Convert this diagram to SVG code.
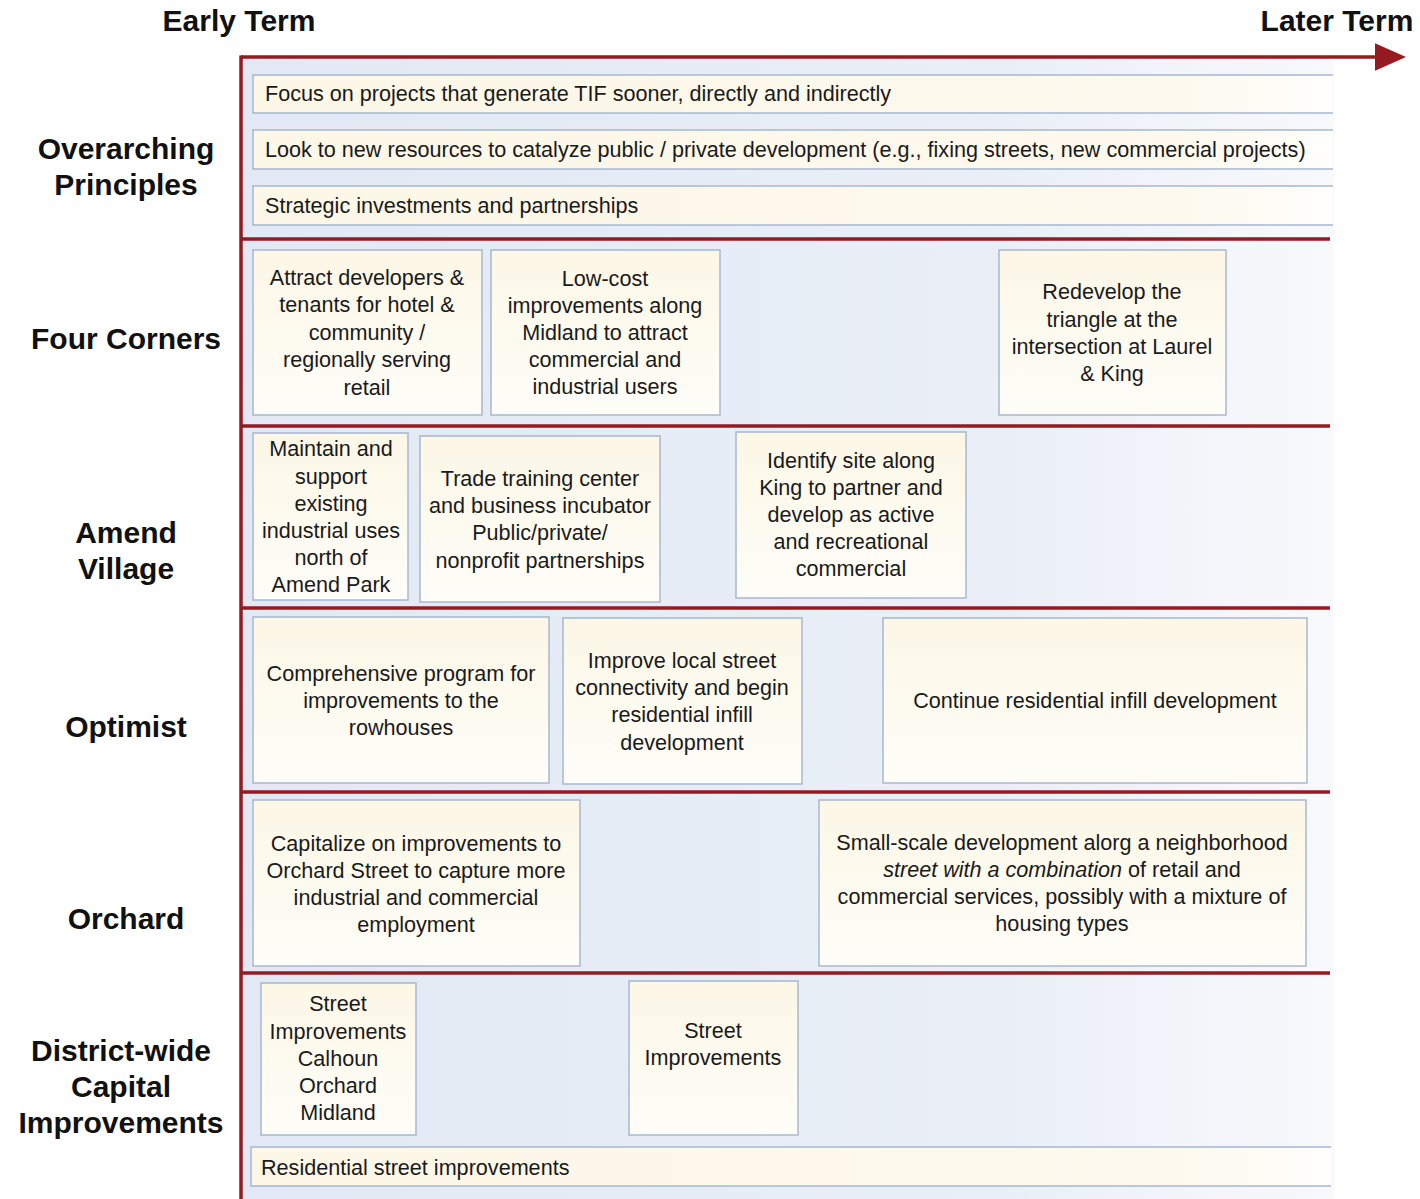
<svg xmlns="http://www.w3.org/2000/svg" width="1420" height="1199" viewBox="0 0 1420 1199">
<defs>
<linearGradient id="panel" x1="0" y1="0" x2="1" y2="0">
<stop offset="0" stop-color="#e2e9f4"/>
<stop offset="0.7" stop-color="#eaeff7"/>
<stop offset="1" stop-color="#f8f9fc"/>
</linearGradient>
<linearGradient id="cream" x1="0" y1="0" x2="0" y2="1">
<stop offset="0" stop-color="#fcf7e6"/>
<stop offset="1" stop-color="#fefdf8"/>
</linearGradient>
<linearGradient id="bar" x1="0" y1="0" x2="1" y2="0">
<stop offset="0" stop-color="#fcf7e6"/>
<stop offset="0.85" stop-color="#fdf9ee"/>
<stop offset="1" stop-color="#fefefb"/>
</linearGradient>
<marker id="ah" markerWidth="10" markerHeight="8" refX="1" refY="4" orient="auto" markerUnits="strokeWidth">
<path d="M0,0 L9,4 L0,8 Z" fill="#951a22"/>
</marker>
<style>
.hd{font-family:"Liberation Sans",Arial,sans-serif;font-weight:bold;font-size:30px;fill:#111;text-anchor:middle}
.tx{font-family:"Liberation Sans",Arial,sans-serif;font-size:21.6px;fill:#1a1a1a;text-anchor:middle}
.tl{font-family:"Liberation Sans",Arial,sans-serif;font-size:21.6px;fill:#1a1a1a}
.box{fill:url(#cream);stroke:#a7b8cf;stroke-width:1.5}
.bf{fill:url(#bar)}
.bl{stroke:#a7b8cf;stroke-width:1.5;fill:none}
.rl{stroke:#951a22;stroke-width:3.5;fill:none}
</style>
</defs>
<rect width="1420" height="1199" fill="#ffffff"/>
<rect x="242" y="58" width="1092" height="1141" fill="url(#panel)"/>

<g id="headers">
<text class="hd" x="239" y="31">Early Term</text>
<text class="hd" x="1337" y="31">Later Term</text>
</g>

<g id="row-labels">
<text class="hd" x="126" y="159">Overarching</text>
<text class="hd" x="126" y="195">Principles</text>
<text class="hd" x="126" y="349">Four Corners</text>
<text class="hd" x="126" y="543">Amend</text>
<text class="hd" x="126" y="579">Village</text>
<text class="hd" x="126" y="737">Optimist</text>
<text class="hd" x="126" y="929">Orchard</text>
<text class="hd" x="121" y="1061">District-wide</text>
<text class="hd" x="121" y="1097">Capital</text>
<text class="hd" x="121" y="1133">Improvements</text>
</g>

<g id="connectors">
<line class="rl" x1="241" y1="57" x2="1378" y2="57" marker-end="url(#ah)"/>
<line class="rl" x1="241" y1="55.5" x2="241" y2="1199"/>
<line class="rl" x1="241" y1="239" x2="1330" y2="239"/>
<line class="rl" x1="241" y1="426" x2="1330" y2="426"/>
<line class="rl" x1="241" y1="608" x2="1330" y2="608"/>
<line class="rl" x1="241" y1="792" x2="1330" y2="792"/>
<line class="rl" x1="241" y1="973" x2="1330" y2="973"/>
</g>

<g id="principle-1">
<rect class="bf" x="253" y="75" width="1080" height="38"/>
<path class="bl" d="M1333,75 H253 V113 H1333"/>
<text class="tl" x="265" y="101">Focus on projects that generate TIF sooner, directly and indirectly</text>
</g>
<g id="principle-2">
<rect class="bf" x="253" y="130" width="1080" height="39"/>
<path class="bl" d="M1333,130 H253 V169 H1333"/>
<text class="tl" x="265" y="157">Look to new resources to catalyze public / private development (e.g., fixing streets, new commercial projects)</text>
</g>
<g id="principle-3">
<rect class="bf" x="253" y="186" width="1080" height="39"/>
<path class="bl" d="M1333,186 H253 V225 H1333"/>
<text class="tl" x="265" y="213">Strategic investments and partnerships</text>
</g>

<g id="fc-attract">
<rect class="box" x="253" y="250" width="229" height="165"/>
<text class="tx" x="367" y="285">Attract developers &amp;</text>
<text class="tx" x="367" y="312">tenants for hotel &amp;</text>
<text class="tx" x="367" y="340">community /</text>
<text class="tx" x="367" y="367">regionally serving</text>
<text class="tx" x="367" y="395">retail</text>
</g>
<g id="fc-lowcost">
<rect class="box" x="491" y="250" width="229" height="165"/>
<text class="tx" x="605" y="286">Low-cost</text>
<text class="tx" x="605" y="313">improvements along</text>
<text class="tx" x="605" y="340">Midland to attract</text>
<text class="tx" x="605" y="367">commercial and</text>
<text class="tx" x="605" y="394">industrial users</text>
</g>
<g id="fc-redevelop">
<rect class="box" x="999" y="250" width="227" height="165"/>
<text class="tx" x="1112" y="299">Redevelop the</text>
<text class="tx" x="1112" y="327">triangle at the</text>
<text class="tx" x="1112" y="354">intersection at Laurel</text>
<text class="tx" x="1112" y="381">&amp; King</text>
</g>

<g id="av-maintain">
<rect class="box" x="253" y="433" width="155" height="167"/>
<text class="tx" x="331" y="456">Maintain and</text>
<text class="tx" x="331" y="484">support</text>
<text class="tx" x="331" y="511">existing</text>
<text class="tx" x="331" y="538">industrial uses</text>
<text class="tx" x="331" y="565">north of</text>
<text class="tx" x="331" y="592">Amend Park</text>
</g>
<g id="av-trade">
<rect class="box" x="420" y="436" width="240" height="166"/>
<text class="tx" x="540" y="486">Trade training center</text>
<text class="tx" x="540" y="513">and business incubator</text>
<text class="tx" x="540" y="540">Public/private/</text>
<text class="tx" x="540" y="568">nonprofit partnerships</text>
</g>
<g id="av-identify">
<rect class="box" x="736" y="432" width="230" height="166"/>
<text class="tx" x="851" y="468">Identify site along</text>
<text class="tx" x="851" y="495">King to partner and</text>
<text class="tx" x="851" y="522">develop as active</text>
<text class="tx" x="851" y="549">and recreational</text>
<text class="tx" x="851" y="576">commercial</text>
</g>

<g id="op-program">
<rect class="box" x="253" y="617" width="296" height="166"/>
<text class="tx" x="401" y="681">Comprehensive program for</text>
<text class="tx" x="401" y="708">improvements to the</text>
<text class="tx" x="401" y="735">rowhouses</text>
</g>
<g id="op-connectivity">
<rect class="box" x="563" y="618" width="239" height="166"/>
<text class="tx" x="682" y="668">Improve local street</text>
<text class="tx" x="682" y="695">connectivity and begin</text>
<text class="tx" x="682" y="722">residential infill</text>
<text class="tx" x="682" y="750">development</text>
</g>
<g id="op-infill">
<rect class="box" x="883" y="618" width="424" height="165"/>
<text class="tx" x="1095" y="708">Continue residential infill development</text>
</g>

<g id="or-capitalize">
<rect class="box" x="253" y="800" width="327" height="166"/>
<text class="tx" x="416" y="851">Capitalize on improvements to</text>
<text class="tx" x="416" y="878">Orchard Street to capture more</text>
<text class="tx" x="416" y="905">industrial and commercial</text>
<text class="tx" x="416" y="932">employment</text>
</g>
<g id="or-smallscale">
<rect class="box" x="819" y="800" width="487" height="166"/>
<text class="tx" x="1062" y="850">Small-scale development alorg a neighborhood</text>
<text class="tx" x="1062" y="877"><tspan font-style="italic">street with a combination</tspan> of retail and</text>
<text class="tx" x="1062" y="904">commercial services, possibly with a mixture of</text>
<text class="tx" x="1062" y="931">housing types</text>
</g>

<g id="dw-street1">
<rect class="box" x="261" y="983" width="155" height="152"/>
<text class="tx" x="338" y="1011">Street</text>
<text class="tx" x="338" y="1039">Improvements</text>
<text class="tx" x="338" y="1066">Calhoun</text>
<text class="tx" x="338" y="1093">Orchard</text>
<text class="tx" x="338" y="1120">Midland</text>
</g>
<g id="dw-street2">
<rect class="box" x="629" y="981" width="169" height="154"/>
<text class="tx" x="713" y="1038">Street</text>
<text class="tx" x="713" y="1065">Improvements</text>
</g>
<g id="dw-residential">
<rect class="bf" x="251" y="1147" width="1080" height="39"/>
<path class="bl" d="M1331,1147 H251 V1186 H1331"/>
<text class="tl" x="261" y="1175">Residential street improvements</text>
</g>
</svg>
